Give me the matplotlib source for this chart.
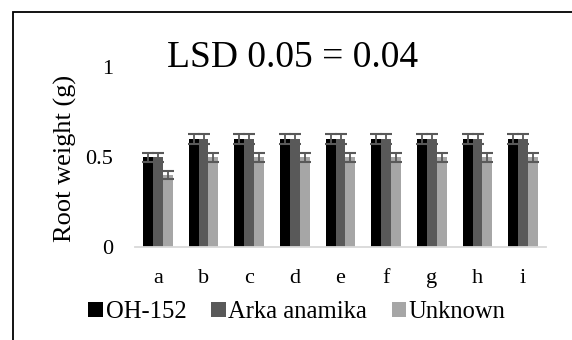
import numpy as np
import matplotlib
matplotlib.use("Agg")
import matplotlib.pyplot as plt
from matplotlib.patches import Rectangle

plt.rcParams["font.family"] = ["Liberation Serif", "DejaVu Serif"]

categories = ["a", "b", "c", "d", "e", "f", "g", "h", "i"]
series_names = ["OH-152", "Arka anamika", "Unknown"]
oh152 = [0.5, 0.6, 0.6, 0.6, 0.6, 0.6, 0.6, 0.6, 0.6]
arka = [0.5, 0.6, 0.6, 0.6, 0.6, 0.6, 0.6, 0.6, 0.6]
unknown = [0.4, 0.5, 0.5, 0.5, 0.5, 0.5, 0.5, 0.5, 0.5]
# error bars look like 5% of each value
err_oh152 = [0.025, 0.03, 0.03, 0.03, 0.03, 0.03, 0.03, 0.03, 0.03]
err_arka = [0.025, 0.03, 0.03, 0.03, 0.03, 0.03, 0.03, 0.03, 0.03]
err_unknown = [0.02, 0.025, 0.025, 0.025, 0.025, 0.025, 0.025, 0.025, 0.025]

colors = ["#000000", "#595959", "#a6a6a6"]
W, H = 572, 340

fig = plt.figure(figsize=(W / 100, H / 100), dpi=100)

# outer frame, cut off on the right and bottom
fig.patches.append(Rectangle((13 / W, -0.2), 1.2, 1 - 12 / H + 0.2,
                             transform=fig.transFigure, fill=False,
                             edgecolor="black", linewidth=1.3))

ax = fig.add_axes([135 / W, 1 - 247 / H, (546 - 135) / W, (247 - 67) / H])

x = np.arange(len(categories))
width = 0.217
values = [oh152, arka, unknown]
errors = [err_oh152, err_arka, err_unknown]
for i, (vals, errs) in enumerate(zip(values, errors)):
    pos = x + (i - 1) * width
    ax.bar(pos, vals, width=width, color=colors[i], label=series_names[i])
    ax.errorbar(pos, vals, yerr=errs, fmt="none", ecolor="#595959",
                elinewidth=1.3, capsize=4.3, capthick=1.5)

ax.set_xlim(-0.5, len(categories) - 0.5)
ax.set_ylim(0, 1)
ax.set_yticks([0, 0.5, 1])
ax.set_yticklabels(["0", "0.5", "1"], fontsize=16)
ax.set_xticks(x)
ax.set_xticklabels(categories, fontsize=16)
ax.tick_params(axis="y", length=0, pad=16)
ax.tick_params(axis="x", length=0, pad=16)
for s in ["top", "right", "left"]:
    ax.spines[s].set_visible(False)
ax.spines["bottom"].set_color("#d9d9d9")
ax.spines["bottom"].set_linewidth(1.3)

fig.text(293 / W, 1 - 67 / H, "LSD 0.05 = 0.04", fontsize=27,
         ha="center", va="baseline")
fig.text(65 / W, 1 - 158 / H, "Root weight (g)", fontsize=19,
         rotation=90, ha="center", va="center")

fig.legend(loc="center", bbox_to_anchor=(297 / W, 1 - 312 / H), ncol=3,
           frameon=False, fontsize=17.7, handlelength=0.6, handleheight=0.6,
           handletextpad=0.1, columnspacing=1.0, borderpad=0)

fig.savefig("out.png", dpi=100)
